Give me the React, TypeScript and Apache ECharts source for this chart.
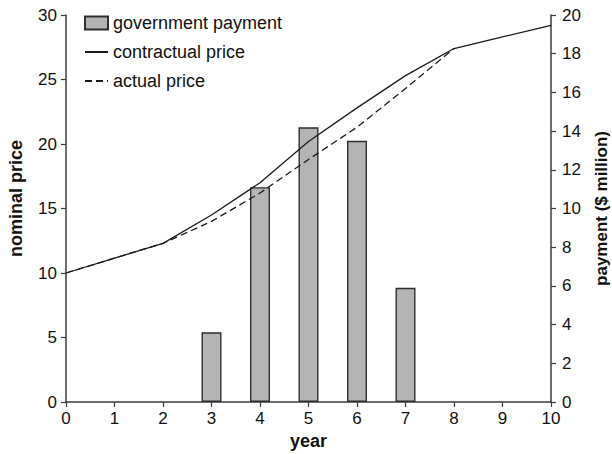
import React, { useEffect, useRef } from "react";
import * as echarts from "echarts";

const years = [0, 1, 2, 3, 4, 5, 6, 7, 8, 9, 10];
const contractualPrice = [10, 11.15, 12.3, 14.5, 17.0, 20.2, 22.8, 25.3, 27.4, 28.3, 29.2];
const actualYears = [0, 1, 2, 3, 4, 5, 6, 7, 8];
const actualPrice = [10, 11.15, 12.3, 14.0, 16.2, 18.8, 21.3, 24.3, 27.4];
const paymentYears = [3, 4, 5, 6, 7];
const payment = [3.6, 11.1, 14.2, 13.5, 5.9];

const FONT = "Liberation Sans, Arial, Helvetica, sans-serif";
const AXIS_COLOR = "#3c3c3c";
const TEXT_COLOR = "#111";

export default function App() {
  const ref = useRef<HTMLDivElement>(null);

  useEffect(() => {
    if (!ref.current) return;
    const chart = echarts.init(ref.current, undefined, { renderer: "svg" });
    const axisCommon = {
      axisLine: { show: true, lineStyle: { color: AXIS_COLOR, width: 1.5 } },
      axisTick: { show: true, inside: false, length: 5, lineStyle: { color: AXIS_COLOR, width: 1.2 } },
      splitLine: { show: false },
      axisLabel: { color: TEXT_COLOR, fontSize: 17, fontFamily: FONT },
      nameTextStyle: { color: TEXT_COLOR, fontSize: 18, fontWeight: "bold", fontFamily: FONT },
    };
    chart.setOption({
      animation: false,
      backgroundColor: "#fff",
      grid: {
        left: 66,
        right: 61,
        top: 15,
        bottom: 52,
        containLabel: false,
        outerBoundsMode: "none",
      },
      legend: {
        orient: "vertical",
        left: 84,
        top: 14,
        padding: 0,
        itemWidth: 23,
        itemHeight: 13,
        itemGap: 11,
        itemTextGap: 8,
        textStyle: { color: TEXT_COLOR, fontSize: 18, fontFamily: FONT },
        data: [
          { name: "government payment", icon: "rect" },
          { name: "contractual price", itemStyle: { opacity: 0 } },
          { name: "actual price", itemStyle: { opacity: 0 } },
        ],
      },
      xAxis: {
        type: "value",
        min: 0,
        max: 10,
        interval: 1,
        name: "year",
        nameLocation: "middle",
        nameGap: 30,
        ...axisCommon,
        axisLabel: { ...axisCommon.axisLabel, margin: 8 },
      },
      yAxis: [
        {
          type: "value",
          position: "left",
          min: 0,
          max: 30,
          interval: 5,
          name: "nominal price",
          nameLocation: "middle",
          nameGap: 41,
          nameRotate: 90,
          ...axisCommon,
          axisLabel: { ...axisCommon.axisLabel, margin: 9 },
          nameTextStyle: { ...axisCommon.nameTextStyle, padding: [0, 0, 0, 20] },
        },
        {
          type: "value",
          position: "right",
          min: 0,
          max: 20,
          interval: 2,
          name: "payment ($ million)",
          nameLocation: "middle",
          nameGap: 42,
          nameRotate: 90,
          ...axisCommon,
          axisLabel: { ...axisCommon.axisLabel, margin: 11 },
          nameTextStyle: { ...axisCommon.nameTextStyle, fontSize: 17 },
        },
      ],
      series: [
        {
          name: "government payment",
          type: "bar",
          yAxisIndex: 1,
          barWidth: 20,
          data: paymentYears.map((y, i) => [y, payment[i]]),
          itemStyle: { color: "#b4b4b4", borderColor: "#2e2e2e", borderWidth: 1.4 },
        },
        {
          name: "contractual price",
          type: "line",
          yAxisIndex: 0,
          symbol: "none",
          data: years.map((y, i) => [y, contractualPrice[i]]),
          lineStyle: { color: "#1a1a1a", width: 1.3, type: "solid" },
          itemStyle: { color: "#1a1a1a" },
        },
        {
          name: "actual price",
          type: "line",
          yAxisIndex: 0,
          symbol: "none",
          data: actualYears.map((y, i) => [y, actualPrice[i]]),
          lineStyle: { color: "#1a1a1a", width: 1.3, type: [7, 4] },
          itemStyle: { color: "#1a1a1a" },
        },
      ],
    });
    return () => chart.dispose();
  }, []);

  return (
    <div
      ref={ref}
      style={{ position: "fixed", left: 0, top: 0, width: 612, height: 454, background: "#fff" }}
    />
  );
}
